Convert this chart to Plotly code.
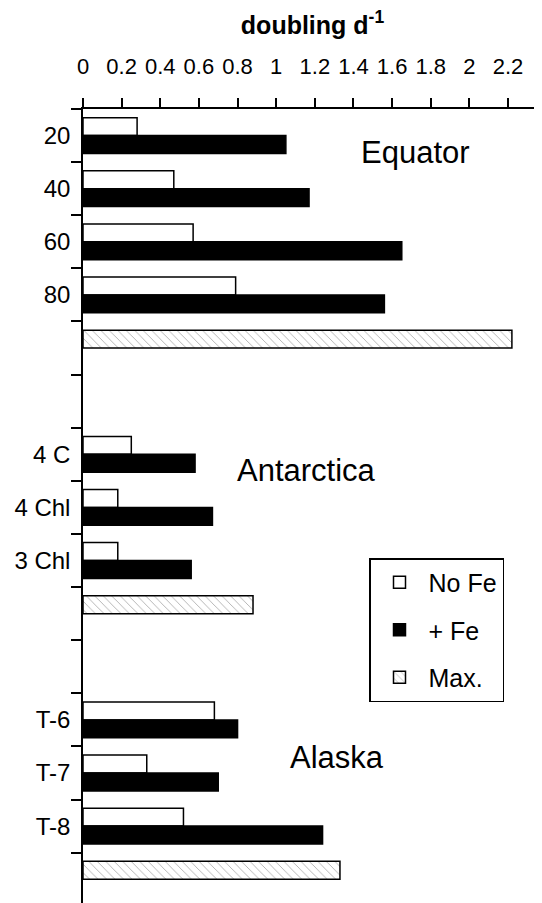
import plotly.graph_objects as go

# ---- data ----
categories = ["20", "40", "60", "80", "Equator max", "gap 1",
              "4 C", "4 Chl", "3 Chl", "Antarctica max", "gap 2",
              "T-6", "T-7", "T-8", "Alaska max"]
category_labels = ["20", "40", "60", "80", "", "",
                   "4 C", "4 Chl", "3 Chl", "", "",
                   "T-6", "T-7", "T-8", ""]

sample_rows = ["20", "40", "60", "80", "4 C", "4 Chl", "3 Chl", "T-6", "T-7", "T-8"]
no_fe = [0.28, 0.47, 0.57, 0.79, 0.25, 0.18, 0.18, 0.68, 0.33, 0.52]
plus_fe = [1.05, 1.17, 1.65, 1.56, 0.58, 0.67, 0.56, 0.80, 0.70, 1.24]

max_rows = ["Equator max", "Antarctica max", "Alaska max"]
max_rate = [2.22, 0.88, 1.33]

x_ticks = [0, 0.2, 0.4, 0.6, 0.8, 1, 1.2, 1.4, 1.6, 1.8, 2, 2.2]

region_names = ["Equator", "Antarctica", "Alaska"]

FONT = "Liberation Sans, Arial, Helvetica, sans-serif"

fig = go.Figure()
fig.add_trace(go.Bar(
    name="No Fe", y=sample_rows, x=no_fe, orientation="h",
    offsetgroup="a", legendgroup="a",
    marker=dict(color="white", line=dict(color="black", width=1.5)),
))
fig.add_trace(go.Bar(
    name="+ Fe", y=sample_rows, x=plus_fe, orientation="h",
    offsetgroup="b", legendgroup="b",
    marker=dict(color="black", line=dict(color="black", width=1.5)),
))
fig.add_trace(go.Bar(
    name="Max.", y=max_rows, x=max_rate, orientation="h",
    offsetgroup="a", legendgroup="c",
    marker=dict(color="white", line=dict(color="black", width=1.5),
                pattern=dict(shape="\\", size=6, solidity=0.14,
                             fgcolor="#555555", bgcolor="white")),
))

# the page body adds an 8 px offset; the figure is sized to fill the window
OFF = 8
W, H = 542 - OFF, 903 - OFF
ML, MT = 83 - OFF, 109 - OFF
PW, PH = W - ML, H - MT
fig.update_layout(
    width=W, height=H,
    margin=dict(l=ML, r=0, t=MT, b=0, pad=0),
    paper_bgcolor="white", plot_bgcolor="white",
    barmode="group", bargap=0.326, bargroupgap=0,
    font=dict(family=FONT, color="black", size=20),
    title=dict(text="<b>doubling d<sup>-1</sup></b>", x=0.5, xref="paper",
               xanchor="center", y=1 - (25 - OFF) / H, yref="container",
               yanchor="middle",
               font=dict(size=25, family=FONT, color="black")),
    showlegend=True,
    legend=dict(x=(369 - 83) / PW, y=1 - (558 - 109) / PH,
                xanchor="left", yanchor="top",
                bordercolor="black", borderwidth=1.5, bgcolor="white",
                font=dict(size=25, family=FONT, color="black"),
                itemwidth=48, entrywidth=74, entrywidthmode="pixels",
                traceorder="grouped", tracegroupgap=12),
)
fig.update_xaxes(
    side="top", range=[0, PW / 193.2],
    tickmode="array", tickvals=x_ticks,
    ticks="outside", ticklen=9, tickwidth=1.5, tickcolor="black",
    showline=True, linecolor="black", linewidth=1.5,
    showgrid=False, zeroline=False, automargin=False,
    tickfont=dict(size=22, family=FONT, color="black"),
    ticklabelstandoff=15,
)
fig.update_yaxes(
    type="category", categoryorder="array", categoryarray=categories,
    range=[-0.5 + PH / 53.12, -0.5],
    tickmode="array", tickvals=categories, ticktext=category_labels,
    tickson="boundaries",
    ticks="outside", ticklen=10, tickwidth=1.5, tickcolor="black",
    showline=True, linecolor="black", linewidth=1.5,
    showgrid=False, zeroline=False, automargin=False,
    tickfont=dict(size=24, family=FONT, color="black"),
    ticklabelstandoff=6,
)

# region labels (positions in axis/paper coordinates)
region_x = [1.429, 0.787, 1.063]
region_y = [0.945, 0.545, 0.183]
for name, xx, yy in zip(region_names, region_x, region_y):
    fig.add_annotation(text=name, x=xx, y=yy, xref="x", yref="paper",
                       xanchor="left", yanchor="middle", showarrow=False,
                       font=dict(size=31, family=FONT, color="black"))

fig.write_html("out.html")
